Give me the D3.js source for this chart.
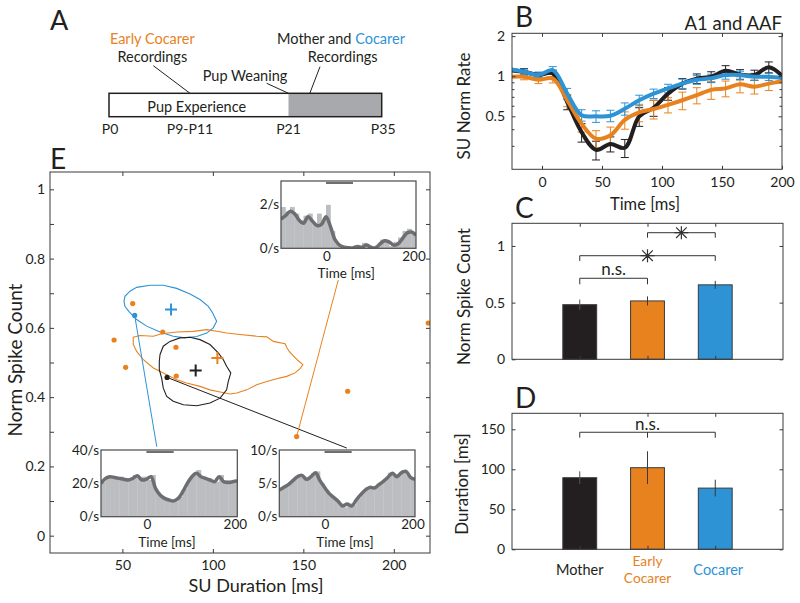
<!DOCTYPE html>
<html><head><meta charset="utf-8">
<script src="https://cdn.jsdelivr.net/npm/d3@7"></script>
<style>
body{margin:0;background:#fff;}
svg{display:block;font-family:Lato,"Open Sans",sans-serif;}
</style></head><body>
<svg id="fig" width="800" height="603"></svg>
<script>
// ---------------- DATA ----------------
const groups = ["Mother", "Early Cocarer", "Cocarer"];
const groupPos = [1, 2, 3];
const groupColors = ["#231f20", "#e8821e", "#2d93d5"];

// Panel A
const dayValues = [0, 10, 21, 35];
const dayLabels = ["P0", "P9-P11", "P21", "P35"];

// Panel B (time in ms, normalized rate)
const bTime = [-27, -15, -3, 9, 21, 33, 45, 57, 69, 81, 93, 105, 117, 129, 141, 153, 165, 177, 189, 201];
const motherRate = [1.11, 1.08, 1.02, 1.05, 0.64, 0.38, 0.28, 0.31, 0.29, 0.50, 0.58, 0.74, 0.88, 0.96, 0.99, 1.10, 1.03, 1.02, 1.17, 0.99];
const motherErr  = [0.06, 0.06, 0.05, 0.06, 0.08, 0.06, 0.045, 0.04, 0.045, 0.08, 0.08, 0.08, 0.08, 0.08, 0.09, 0.10, 0.09, 0.09, 0.11, 0.09];
const earlyRate  = [0.99, 0.99, 0.94, 0.96, 0.66, 0.44, 0.34, 0.36, 0.47, 0.535, 0.567, 0.61, 0.66, 0.72, 0.79, 0.81, 0.87, 0.835, 0.88, 0.92];
const earlyErr   = [0.05, 0.05, 0.06, 0.07, 0.07, 0.06, 0.05, 0.055, 0.07, 0.08, 0.09, 0.08, 0.10, 0.10, 0.12, 0.11, 0.12, 0.10, 0.10, 0.09];
const cocarerRate = [1.13, 1.08, 1.02, 1.11, 0.74, 0.51, 0.50, 0.505, 0.57, 0.66, 0.74, 0.81, 0.88, 0.94, 0.965, 1.02, 1.02, 0.99, 0.99, 0.965];
const cocarerErr  = [0.05, 0.05, 0.05, 0.07, 0.07, 0.05, 0.05, 0.05, 0.06, 0.06, 0.06, 0.06, 0.07, 0.07, 0.07, 0.07, 0.07, 0.06, 0.06, 0.06];
const bXTicks = [0, 50, 100, 150, 200];
const bYTicks = [0.5, 1, 2];
const bYMinor = [0.3, 0.4, 0.6, 0.7, 0.8, 0.9];

// Panel C
const spikeCountMean = [0.482, 0.515, 0.657];
const spikeCountErr  = [0.045, 0.04, 0.035];
const cYTicks = [0, 0.5, 1];

// Panel D
const durationMean = [89.5, 102, 76.5];
const durationErr  = [8, 20.5, 10.5];
const dYTicks = [0, 50, 100, 150];

// Panel E: individual units
const earlyDur   = [55.7, 72.3, 45.4, 79.6, 51.8, 79.8, 219.0, 174.5, 146.3];
const earlySpike = [0.670, 0.588, 0.565, 0.544, 0.486, 0.461, 0.614, 0.417, 0.286];
const cocarerDur   = [56.8];
const cocarerSpike = [0.636];
const motherDur   = [74.7];
const motherSpike = [0.457];
// group means (Mother, Early Cocarer, Cocarer)
const meanDur   = [90.5, 102.5, 76.9];
const meanSpike = [0.477, 0.513, 0.653];
// contours [duration, spike count]
const cocarerContour = [[50.9,0.677],[51.4,0.691],[54.2,0.706],[57.9,0.717],[65.3,0.723],[72.6,0.723],[80.0,0.714],[87.4,0.698],[92.9,0.682],[97.5,0.662],[99.9,0.643],[102.1,0.619],[100.2,0.600],[96.6,0.585],[91.1,0.575],[84.6,0.571],[78.1,0.576],[70.8,0.588],[63.4,0.605],[57.9,0.624],[53.8,0.646],[51.4,0.662]];
const earlyContour = [[56.0,0.573],[59.7,0.578],[67.1,0.576],[71.7,0.583],[80.0,0.588],[89.2,0.590],[96.6,0.595],[102.1,0.590],[107.6,0.585],[115.0,0.581],[124.2,0.576],[129.8,0.574],[133.4,0.561],[139.9,0.554],[140.8,0.544],[142.2,0.532],[144.1,0.521],[147.2,0.505],[149.7,0.494],[148.2,0.482],[145.4,0.470],[140.8,0.460],[135.3,0.453],[129.8,0.445],[124.2,0.436],[118.7,0.421],[113.2,0.412],[109.5,0.409],[104.0,0.415],[98.4,0.421],[92.9,0.431],[85.5,0.441],[80.0,0.450],[72.6,0.470],[67.1,0.484],[61.6,0.508],[57.9,0.532],[56.0,0.552]];
const motherContour = [[70.8,0.523],[72.6,0.547],[76.3,0.561],[81.8,0.571],[87.4,0.573],[92.9,0.566],[98.4,0.552],[103.0,0.528],[105.8,0.508],[107.6,0.489],[109.9,0.470],[108.5,0.445],[107.6,0.421],[104.0,0.397],[98.4,0.383],[91.1,0.375],[83.7,0.378],[78.1,0.388],[74.5,0.402],[72.6,0.426],[71.7,0.455],[70.4,0.479],[70.4,0.503]];
const eXTicks = [50, 100, 150, 200];
const eYTicks = [0, 0.1, 0.2, 0.3, 0.4, 0.5, 0.6, 0.7, 0.8, 0.9, 1];

// Example unit PSTHs (10 ms bins from -100 ms; smoothed curve every 10 ms from -100 to 200)
const psthBins = d3.range(-100, 200, 10);
const psthTime = d3.range(-100, 201, 10);
const topHist  = [1.9,1.7,1.9,1.6,1.3,1.5,1.6,1.1,1.6,1.3,2.0,0.8,0.2,0.1,0.0,0.05,0.1,0.05,0.25,0.05,0.0,0.15,0.4,0.3,0.1,0.3,0.5,0.8,0.9,0.7];
const topLine  = [1.35,1.5,1.7,1.6,1.3,1.15,1.45,1.25,1.05,1.1,1.45,1.0,0.4,0.15,0.05,0.02,0.02,0.08,0.05,0.15,0.05,0.02,0.2,0.35,0.3,0.15,0.2,0.45,0.7,0.75,0.6];
const leftHist = [21,24,24,23,24,22,23,25,23,24,22,25,15,12,10,9.5,9,12,17,22,25,28,24,23,22,21,25,22,21,22];
const leftLine = [20,23,24,23.5,23,22.5,22,23,24.5,22,22.5,24,17,13,11,10,9.5,11,15,20,24,26,24,23,22,21,24,21,20.5,21,21.5];
const rightHist = [4.2,4.8,5.2,5.8,6.4,6.0,5.8,6.5,6.8,5.0,4.0,3.2,2.6,2.0,1.4,2.0,1.8,2.8,3.6,4.4,4.2,4.6,5.2,5.6,6.6,6.2,6.4,7.0,6.2,5.8];
const rightLine = [4.0,4.4,4.8,5.4,6.0,6.2,5.6,6.0,6.6,5.4,4.4,3.5,2.9,2.3,1.6,1.9,1.6,2.5,3.3,4.0,4.4,4.3,4.8,5.3,5.9,6.5,6.0,6.6,6.8,5.9,5.6];
const stimulus = [0, 60];

// ---------------- DRAWING ----------------
const svg = d3.select("#fig");
const AX = "#3a3a3a";
const TXT = "#231f20";
const FONT = "Lato, 'Open Sans', sans-serif";
let clipId = 0;

function styleAxis(g, fs) {
  g.select(".domain").remove();
  g.selectAll(".tick line").attr("stroke", AX).attr("stroke-width", 1);
  g.selectAll(".tick text").attr("fill", TXT);
  g.attr("font-family", FONT).attr("font-size", fs || 14);
}
function frame(x, y, o) {
  const [x0, x1] = x.range(), [y1, y0] = y.range();
  const g = svg.append("g");
  const ts = o.tick || 4;
  const b = g.append("g").attr("transform", `translate(0,${y1})`)
    .call(d3.axisBottom(x).tickValues(o.xTicks).tickSize(-ts).tickPadding(o.xPad || 8)
      .tickFormat(o.xFormat || (o.xLabels === false ? () => "" : d3.format(""))));
  styleAxis(b);
  const t = g.append("g").attr("transform", `translate(0,${y0})`)
    .call(d3.axisTop(x).tickValues(o.xTicks).tickSize(-ts).tickFormat(() => ""));
  styleAxis(t);
  const l = g.append("g").attr("transform", `translate(${x0},0)`)
    .call(d3.axisLeft(y).tickValues(o.yTicks).tickSize(-ts).tickPadding(o.yPad || 6)
      .tickFormat(o.yFormat || d3.format("")));
  styleAxis(l);
  if (o.yLabelMask) l.selectAll(".tick text").filter(o.yLabelMask).remove();
  const r = g.append("g").attr("transform", `translate(${x1},0)`)
    .call(d3.axisRight(y).tickValues(o.yTicks).tickSize(-ts).tickFormat(() => ""));
  styleAxis(r);
  if (o.yMinor) {
    [[d3.axisLeft, x0], [d3.axisRight, x1]].forEach(([f, px]) => {
      const m = g.append("g").attr("transform", `translate(${px},0)`)
        .call(f(y).tickValues(o.yMinor).tickSize(-2.5).tickFormat(() => ""));
      styleAxis(m);
    });
  }
  g.append("rect").attr("x", x0).attr("y", y0).attr("width", x1 - x0).attr("height", y1 - y0)
    .attr("fill", "none").attr("stroke", AX).attr("stroke-width", 1);
  return g;
}
function clipFor(x0, y0, w, h) {
  const id = "clip" + (clipId++);
  svg.append("clipPath").attr("id", id).append("rect").attr("x", x0).attr("y", y0).attr("width", w).attr("height", h);
  return `url(#${id})`;
}
function text(x, y, s, o) {
  o = o || {};
  return svg.append("text").attr("x", x).attr("y", y).text(s)
    .attr("font-size", o.size || 14).attr("fill", o.fill || TXT)
    .attr("text-anchor", o.anchor || "middle").attr("font-family", FONT);
}
function vtext(x, y, s, size) {
  return svg.append("text").attr("transform", `translate(${x},${y}) rotate(-90)`)
    .attr("text-anchor", "middle").attr("font-size", size).attr("fill", TXT)
    .attr("font-family", FONT).text(s);
}

// Panel letters
text(50, 29.5, "A", {size: 27, anchor: "start"});
text(515, 26.7, "B", {size: 28, anchor: "start"});
text(515, 218, "C", {size: 28, anchor: "start"});
text(515, 408, "D", {size: 28, anchor: "start"});
text(50, 169, "E", {size: 28, anchor: "start"});

// ---------- Panel A ----------
(function () {
  const xA = d3.scaleLinear().domain([0, 10, 21, 35]).range([109, 190, 288.5, 381.7]);
  const yTop = 93.3, yBot = 116.7;
  svg.append("rect").attr("x", xA(0)).attr("y", yTop).attr("width", xA(35) - xA(0)).attr("height", yBot - yTop).attr("fill", "#fff");
  svg.append("rect").attr("x", xA(21)).attr("y", yTop).attr("width", xA(35) - xA(21)).attr("height", yBot - yTop).attr("fill", "#a7a9ac");
  svg.append("rect").attr("x", xA(0)).attr("y", yTop).attr("width", xA(35) - xA(0)).attr("height", yBot - yTop)
    .attr("fill", "none").attr("stroke", TXT).attr("stroke-width", 1.5);
  text(196.7, 111.5, "Pup Experience", {size: 14.5});
  dayValues.forEach((d, i) => text(xA(d) + (i === 0 ? 1 : 0) + (i === 3 ? 1.5 : 0), 133.5, dayLabels[i], {size: 14}));
  const line = (a, b) => svg.append("line").attr("x1", a[0]).attr("y1", a[1]).attr("x2", b[0]).attr("y2", b[1]).attr("stroke", TXT).attr("stroke-width", 1);
  text(152.3, 44, "Early Cocarer", {size: 14.5, fill: groupColors[1]});
  text(152.3, 62, "Recordings", {size: 14.5});
  line([153.3, 65.7], [xA(10), yTop]);
  text(245, 81, "Pup Weaning", {size: 14.5});
  line([266.7, 83.3], [xA(21), yTop]);
  const t = text(341, 44, "", {size: 14.5});
  t.append("tspan").text("Mother and ");
  t.append("tspan").attr("fill", groupColors[2]).text("Cocarer");
  text(342.7, 62, "Recordings", {size: 14.5});
  line([320, 66.7], [xA(24.2), yTop]);
})();

// ---------- Panel B ----------
(function () {
  const xB = d3.scaleLinear().domain([-25, 200]).range([512, 782]);
  const yB = d3.scaleLog().domain([0.2, 2.1]).range([169.3, 33.3]);
  const cp = clipFor(512, 33.3, 270, 136);
  const series = [
    {v: motherRate, e: motherErr, c: groupColors[0]},
    {v: earlyRate, e: earlyErr, c: groupColors[1]},
    {v: cocarerRate, e: cocarerErr, c: groupColors[2]}
  ];
  const gB = svg.append("g").attr("clip-path", cp);
  series.forEach(s => {
    bTime.forEach((t, i) => {
      if (t < -25 || t > 200) return;
      const x = xB(t), lo = yB(s.v[i] - s.e[i]), hi = yB(s.v[i] + s.e[i]);
      gB.append("path").attr("d", `M${x},${lo}V${hi}M${x - 4},${lo}H${x + 4}M${x - 4},${hi}H${x + 4}`)
        .attr("stroke", s.c).attr("stroke-width", 1).attr("fill", "none");
    });
  });
  const ln = d3.line().x((d, i) => xB(bTime[i])).y(d => yB(d)).curve(d3.curveCatmullRom.alpha(0.5));
  series.forEach(s => {
    gB.append("path").attr("d", ln(s.v)).attr("fill", "none").attr("stroke", s.c).attr("stroke-width", 4).attr("stroke-linejoin", "round");
  });
  frame(xB, yB, {xTicks: bXTicks, yTicks: bYTicks, yMinor: bYMinor, tick: 3.5, xPad: 8, yPad: 7,
    yFormat: d => d3.format("")(d)});
  vtext(470, 106, "SU Norm Rate", 17);
  text(645, 210, "Time [ms]", {size: 16.5});
  text(782, 30, "A1 and AAF", {size: 18.5, anchor: "end"});
})();

// Bracket helper
function bracket(x, y, a, b, yLine, yLeg, mid) {
  let d = `M${x(a)},${y(yLeg)}V${y(yLine)}H${x(b)}V${y(yLeg)}`;
  if (mid !== undefined) d += `M${x(mid)},${y(yLine)}V${y(yLeg)}`;
  svg.append("path").attr("d", d).attr("fill", "none").attr("stroke", "#333").attr("stroke-width", 1);
}
function asterisk(cx, cy) {
  const r = 7, rv = 6.5, rd = 5.3;
  svg.append("path").attr("d", `M${cx},${cy - rv}V${cy + rv}M${cx - r},${cy}H${cx + r}M${cx - rd},${cy - rd}L${cx + rd},${cy + rd}M${cx - rd},${cy + rd}L${cx + rd},${cy - rd}`)
    .attr("stroke", "#333").attr("stroke-width", 1.2).attr("fill", "none");
}

function barPanel(y, means, errs) {
  const x = d3.scaleLinear().domain([0, 4]).range([512, 783]);
  const bw = x(0.5) - x(0);
  groupPos.forEach((p, i) => {
    svg.append("rect").attr("x", x(p) - bw / 2).attr("y", y(means[i])).attr("width", bw).attr("height", y(0) - y(means[i]))
      .attr("fill", groupColors[i]).attr("stroke", "#3a3a3a").attr("stroke-width", 1);
    svg.append("line").attr("x1", x(p)).attr("x2", x(p)).attr("y1", y(means[i] - errs[i])).attr("y2", y(means[i] + errs[i]))
      .attr("stroke", i === 0 ? "#555" : "#3a3a3a").attr("stroke-width", 1);
  });
  return x;
}

// ---------- Panel C ----------
(function () {
  const yC = d3.scaleLinear().domain([0, 1.2]).range([359.3, 223.3]);
  const xC = barPanel(yC, spikeCountMean, spikeCountErr);
  frame(xC, yC, {xTicks: groupPos, yTicks: cYTicks, xLabels: false, tick: 3.5, yPad: 7});
  bracket(xC, yC, 1, 2, 0.715, 0.662);
  text((xC(1) + xC(2)) / 2, 275, "n.s.", {size: 17});
  bracket(xC, yC, 1, 3, 0.914, 0.868);
  asterisk(xC(2), yC(0.914));
  bracket(xC, yC, 2, 3, 1.117, 1.073);
  asterisk(xC(2.5), yC(1.117));
  vtext(470, 296.5, "Norm Spike Count", 17);
})();

// ---------- Panel D ----------
(function () {
  const yD = d3.scaleLinear().domain([0, 170]).range([549.3, 413.3]);
  const xD = barPanel(yD, durationMean, durationErr);
  frame(xD, yD, {xTicks: groupPos, yTicks: dYTicks, xLabels: false, tick: 3.5, yPad: 7});
  bracket(xD, yD, 1, 3, 146.3, 139.5, 2);
  text(xD(2), 430, "n.s.", {size: 17});
  vtext(468, 484, "Duration [ms]", 17);
  text(xD(1), 574.5, "Mother", {size: 14.5});
  const w = groups[1].split(" ");
  const ec = text(xD(2), 565.5, "", {size: 13.8, fill: groupColors[1]});
  ec.append("tspan").attr("x", xD(2)).attr("y", 565.5).text(w[0]);
  ec.append("tspan").attr("x", xD(2)).attr("y", 582.5).text(w[1]);
  text(xD(3) + 3, 574.5, "Cocarer", {size: 14.5, fill: groupColors[2]});
})();

// ---------- Panel E ----------
(function () {
  const xE = d3.scaleLinear().domain([10, 220]).range([50, 430]);
  const yE = d3.scaleLinear().domain([-0.05, 1.05]).range([553, 172]);
  const cp = clipFor(50, 172, 380, 381);
  const g = svg.append("g").attr("clip-path", cp);
  const cl = d3.line().x(d => xE(d[0])).y(d => yE(d[1])).curve(d3.curveLinearClosed);
  [[cocarerContour, 2], [earlyContour, 1], [motherContour, 0]].forEach(([c, i]) => {
    g.append("path").attr("d", cl(c)).attr("fill", "none").attr("stroke", groupColors[i]).attr("stroke-width", 1.1);
  });
  // pointer lines to example units
  const ptr = (from, to, c) => g.append("line").attr("x1", xE(from[0])).attr("y1", yE(from[1]))
    .attr("x2", xE(to[0])).attr("y2", yE(to[1])).attr("stroke", c).attr("stroke-width", 1);
  ptr([cocarerDur[0], cocarerSpike[0]], [69, 0.257], groupColors[2]);
  ptr([motherDur[0], motherSpike[0]], [174, 0.253], groupColors[0]);
  ptr([earlyDur[8], earlySpike[8]], [169.3, 0.738], groupColors[1]);
  earlyDur.forEach((d, i) => g.append("circle").attr("cx", xE(d)).attr("cy", yE(earlySpike[i])).attr("r", 2.6).attr("fill", groupColors[1]));
  cocarerDur.forEach((d, i) => g.append("circle").attr("cx", xE(d)).attr("cy", yE(cocarerSpike[i])).attr("r", 2.6).attr("fill", groupColors[2]));
  motherDur.forEach((d, i) => g.append("circle").attr("cx", xE(d)).attr("cy", yE(motherSpike[i])).attr("r", 2.6).attr("fill", groupColors[0]));
  meanDur.forEach((d, i) => {
    const cx = xE(d), cy = yE(meanSpike[i]);
    g.append("path").attr("d", `M${cx - 6},${cy}H${cx + 6}M${cx},${cy - 6}V${cy + 6}`)
      .attr("stroke", groupColors[i]).attr("stroke-width", 2).attr("fill", "none");
  });
  frame(xE, yE, {xTicks: eXTicks, yTicks: eYTicks, tick: 4, xPad: 7, yPad: 5,
    yFormat: d => d3.format("")(+d.toFixed(1)),
    yLabelMask: (d) => Math.round(d * 10) % 2 === 1});
  vtext(22, 360, "Norm Spike Count", 19);
  text(256, 592, "SU Duration [ms]", {size: 18});

  // insets
  function inset(box, hist, line, yMax, yTicks, yLabs) {
    const xi = d3.scaleLinear().domain([-100, 200]).range([box.x0, box.x1]);
    const yi = d3.scaleLinear().domain([0, yMax]).range([box.y1, box.y0]);
    const ig = svg.append("g");
    ig.append("rect").attr("x", box.x0).attr("y", box.y0).attr("width", box.x1 - box.x0).attr("height", box.y1 - box.y0).attr("fill", "#fff");
    const c = clipFor(box.x0, box.y0, box.x1 - box.x0, box.y1 - box.y0);
    const inner = ig.append("g").attr("clip-path", c);
    psthBins.forEach((b, i) => {
      inner.append("rect").attr("x", xi(b)).attr("y", yi(hist[i])).attr("width", xi(b + 10) - xi(b) + 0.3)
        .attr("height", yi(0) - yi(hist[i])).attr("fill", "#bcbdc0");
    });
    const ln = d3.line().x((d, i) => xi(psthTime[i])).y(d => yi(d)).curve(d3.curveCatmullRom.alpha(0.5));
    inner.append("path").attr("d", ln(line)).attr("fill", "none").attr("stroke", "#6d6e71").attr("stroke-width", 3.5).attr("stroke-linejoin", "round");
    ig.append("line").attr("x1", xi(stimulus[0])).attr("x2", xi(stimulus[1])).attr("y1", box.y0 + 2).attr("y2", box.y0 + 2)
      .attr("stroke", TXT).attr("stroke-width", 1.3);
    ig.append("rect").attr("x", box.x0).attr("y", box.y0).attr("width", box.x1 - box.x0).attr("height", box.y1 - box.y0)
      .attr("fill", "none").attr("stroke", "#4a4a4a").attr("stroke-width", 1.2);
    yTicks.forEach((v, i) => text(box.x0 - 2, yi(v) + 4.5, yLabs[i], {size: 13.5, anchor: "end"}));
    [0, 200].forEach(v => text(xi(v) + (v === 200 ? -2 : 1), box.y1 + 12.5, String(v), {size: 13.5}));
    text(xi(45), box.y1 + 30, "Time [ms]", {size: 13.5});
  }
  inset({x0: 281, x1: 416, y0: 181, y1: 248.3}, topHist, topLine, 3.1, [0, 2], ["0/s", "2/s"]);
  inset({x0: 101, x1: 237.3, y0: 450, y1: 516.7}, leftHist, leftLine, 40, [0, 20, 40], ["0/s", "20/s", "40/s"]);
  inset({x0: 279.3, x1: 415, y0: 450, y1: 516.7}, rightHist, rightLine, 10, [0, 5, 10], ["0/s", "5/s", "10/s"]);
})();
</script>
</body></html>
